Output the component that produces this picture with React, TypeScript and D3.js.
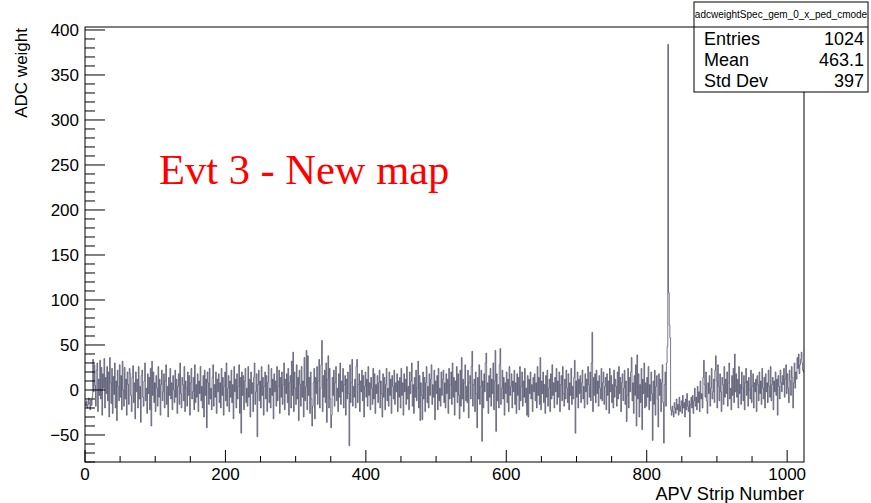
import React from "react";
import * as d3 from "d3";

// ---- Data ----
const histName = "adcweightSpec_gem_0_x_ped_cmode";
const statLabels = ["Entries", "Mean", "Std Dev"];
const statValues = ["1024", "463.1", "397"];
const xTickValues = [0, 200, 400, 600, 800, 1000];
const yTickValues = [-50, 0, 50, 100, 150, 200, 250, 300, 350, 400];
const xTitle = "APV Strip Number";
const yTitle = "ADC weight";
const note = "Evt 3 - New map";
const nBins = 1024;

// ADC weight per APV strip (bin 0 .. 1023)
const adcWeights = [
  -14,-18,-12,-20,-16,-9,-15,-22,-11,-17,-8,34,-2,28,5,-18,
  22,30,-24,12,-6,33,-10,25,-28,18,2,35,-20,14,-4,26,
  -12,20,-30,36,8,-15,24,-26,15,-5,30,-20,10,-34,22,4,
  -12,28,-8,16,-22,32,0,-18,25,-10,12,-28,20,6,-16,24,
  18,-6,-24,14,27,-14,8,-32,20,-2,12,-20,26,-10,4,-36,
  16,22,-8,-18,10,30,-12,2,-26,18,-4,14,-22,24,-40,32,
  -6,20,-14,8,-24,16,2,-18,26,-8,12,-28,6,22,-12,-2,
  18,-20,10,28,-16,4,-30,14,-6,24,-10,8,-22,16,0,-14,
  22,-8,12,-26,4,18,-16,30,-4,-20,14,6,-12,26,-24,10,
  2,-18,20,-6,16,-28,8,24,-10,-2,14,-22,28,-14,6,-8,
  18,-24,10,-4,26,-12,4,-20,16,-30,22,-6,12,-42,20,8,
  -16,24,-10,2,-22,14,28,-18,6,-8,20,-26,12,-2,18,-14,
  8,-20,24,-6,14,-28,4,20,-12,30,-18,2,16,-24,10,-8,
  22,-14,6,-32,26,-2,12,-20,18,-10,4,28,-26,14,-48,20,
  -6,16,-22,10,24,-14,2,-18,26,-8,12,-30,20,-4,8,-24,
  14,30,-16,-2,18,-52,6,22,-12,10,-20,26,-6,14,-28,4,
  20,-10,16,-24,8,28,-14,2,-20,24,-6,12,-32,18,-2,10,
  -18,26,-12,4,22,-26,14,-8,20,-16,6,30,-22,12,-4,18,
  -14,24,-28,8,16,-20,32,-6,42,-24,20,2,-16,28,-10,14,
  -34,22,6,-18,26,-8,10,-30,36,-12,4,44,-22,38,-6,14,
  -26,20,-10,-40,-18,8,24,-32,14,-4,26,-16,10,34,-20,2,
  28,55,-24,16,-8,22,-14,30,-36,12,38,-20,24,-10,-42,-28,
  14,-6,22,-18,8,26,-12,2,-24,18,-8,30,-16,10,-2,24,
  -20,6,16,-28,12,-10,20,-4,-62,28,-14,8,34,-18,4,-8,
  12,-20,26,34,-14,6,18,-24,10,-2,22,-12,16,-30,4,20,
  -8,12,-18,26,-6,8,-22,14,2,-16,24,-10,18,-26,6,-4,
  16,-14,8,22,-20,10,-4,-30,18,-8,14,-22,6,24,-12,2,
  -18,20,-6,12,-26,16,4,-10,22,-16,8,-2,18,-24,10,-8,
  14,-20,24,-6,8,-28,18,-2,12,-16,26,-10,4,-22,20,-4,
  10,30,-18,6,-26,14,-8,22,-12,2,32,-20,16,-34,8,-6,
  -33,20,-10,14,-24,8,26,-14,4,-20,18,-6,12,28,-16,6,
  -8,22,-33,10,-4,16,-22,24,-12,2,-18,20,-6,12,22,-14,
  8,-20,18,-4,12,-26,24,-10,6,20,-16,30,-8,14,-28,10,
  -2,26,-14,18,-6,-32,22,-18,36,-10,12,-24,8,28,-12,4,
  -14,22,-31,8,16,-10,26,43,-18,6,12,-24,20,-4,-42,14,
  -10,28,-16,4,22,-57,10,-20,18,-2,30,41,-12,8,-26,16,
  -8,24,-18,12,-4,30,-22,10,44,-46,18,-12,6,-20,28,46,
  -16,2,22,-10,14,-28,8,-4,20,-14,12,-24,26,-6,4,18,
  -20,10,-2,22,-16,8,-26,18,-6,14,-22,26,-12,4,20,-18,
  10,-8,24,-14,2,-28,16,-30,12,-4,20,-10,6,-24,14,-2,
  18,-12,8,-20,26,-6,14,-16,36,-22,10,-4,20,-14,6,-26,
  16,-8,22,-18,2,12,-24,18,-10,28,-6,8,-20,14,-2,24,
  -16,10,-8,20,-24,6,16,-12,26,-4,-18,12,-10,22,2,-14,
  18,-22,8,-6,24,-16,4,-10,14,33,-48,10,-8,20,-20,12,
  -4,16,-14,8,22,-10,4,-20,18,-2,12,-16,26,6,-8,20,
  -12,30,64,-24,14,-6,18,-14,22,-4,10,-18,16,2,-10,24,
  -12,8,20,-16,4,14,-22,18,-6,10,-26,24,-2,16,-14,6,
  -20,22,-8,12,4,-18,20,-10,26,-4,14,-24,8,18,-12,2,
  22,-16,10,-35,-6,24,-20,14,-2,20,36,-12,8,-26,16,-6,
  28,-40,39,-10,18,-30,6,-14,24,-44,12,-4,30,-20,8,-18,
  14,-8,26,-22,6,-12,20,-4,-56,10,-16,22,-28,4,16,-10,
  -41,18,-6,12,-24,8,28,-14,-59,6,20,-18,30,48,384,108,
  72,58,-22,-28,-18,-24,-30,-14,-20,-26,-10,-22,-16,-28,-8,-24,
  -18,-12,-26,-6,-20,-14,-30,-10,-22,-4,-18,-24,-12,-52,-16,-8,
  -20,-6,-26,-12,2,-18,-8,-22,4,-14,-2,-24,10,-10,-4,-20,
  14,33,6,-8,20,-12,-26,8,-4,16,-18,2,24,-10,-2,12,
  -14,22,38,10,-20,28,4,-12,18,-2,-24,14,6,-16,26,-8,
  12,-4,20,-18,8,30,-10,2,-22,16,-6,24,-14,40,-2,18,
  -8,12,-20,26,-4,6,-16,20,2,-12,16,-22,8,24,-6,10,
  -18,14,0,-10,22,-14,4,18,-20,8,-2,12,-24,16,6,-12,
  20,-4,10,-16,24,2,-10,14,-20,18,-2,8,-14,22,4,-8,
  26,-12,6,14,-22,10,-2,20,-6,12,-28,16,4,-10,22,8,
  -2,16,6,24,-8,12,28,-4,18,2,-14,22,10,-6,26,14,
  -20,8,30,2,20,12,36,24,40,18,28,34,42,30,22,20,
];

const W = 871;
const H = 503;
const frame = { left: 85, right: 804, top: 27, bottom: 462 };
const SANS = "'Liberation Sans', Arial, Helvetica, sans-serif";
const SERIF = "'Liberation Serif', 'Times New Roman', serif";

export default function App() {
  const x = d3.scaleLinear().domain([0, nBins]).range([frame.left, frame.right]);
  const y = d3.scaleLinear().domain([-80, 403.3]).range([frame.bottom, frame.top]);

  const pts: [number, number][] = adcWeights.map((v, i) => [i, v]);
  pts.push([adcWeights.length, adcWeights[adcWeights.length - 1]]);
  const line = d3
    .line<[number, number]>()
    .x((d) => x(d[0]))
    .y((d) => y(d[1]))
    .curve(d3.curveStepAfter);
  const path = line(pts) || "";

  const xMinor = d3.range(0, nBins + 1, 50).filter((v) => v % 200 !== 0);
  const [y0, y1] = y.domain();
  const yMinor = d3.range(-80, 401, 10).filter((v) => v % 50 !== 0 && v >= y0 && v <= y1);

  const fmt = (v: number) => (v < 0 ? "\u2212" + Math.abs(v) : String(v));

  const box = { x0: 694, x1: 868, y0: 2, ySep: 27, y1: 92 };

  return (
    <svg
      width={W}
      height={H}
      style={{ position: "absolute", left: 0, top: 0, background: "#fff" }}
      xmlns="http://www.w3.org/2000/svg"
    >
      <rect x={0} y={0} width={W} height={H} fill="#fff" />
      <defs>
        <clipPath id="frameClip">
          <rect
            x={frame.left}
            y={frame.top}
            width={frame.right - frame.left}
            height={frame.bottom - frame.top}
          />
        </clipPath>
      </defs>

      {/* histogram */}
      <path
        d={path}
        fill="none"
        stroke="#3e3e5a"
        strokeWidth={0.7}
        clipPath="url(#frameClip)"
      />

      {/* frame */}
      <rect
        x={frame.left}
        y={frame.top}
        width={frame.right - frame.left}
        height={frame.bottom - frame.top}
        fill="none"
        stroke="#000"
        strokeWidth={1}
      />

      {/* x axis ticks */}
      {xTickValues.map((v) => (
        <line key={"xM" + v} x1={x(v)} x2={x(v)} y1={frame.bottom} y2={frame.bottom - 12} stroke="#000" />
      ))}
      {xMinor.map((v) => (
        <line key={"xm" + v} x1={x(v)} x2={x(v)} y1={frame.bottom} y2={frame.bottom - 6} stroke="#000" />
      ))}
      {xTickValues.map((v) => (
        <text
          key={"xl" + v}
          x={x(v)}
          y={480}
          textAnchor="middle"
          fontFamily={SANS}
          fontSize={17}
          fill="#000"
        >
          {fmt(v)}
        </text>
      ))}
      <text x={frame.right} y={500} textAnchor="end" fontFamily={SANS} fontSize={18.2} fill="#000">
        {xTitle}
      </text>

      {/* y axis ticks */}
      {yTickValues.map((v) => (
        <line key={"yM" + v} x1={frame.left} x2={frame.left + 20} y1={y(v)} y2={y(v)} stroke="#000" />
      ))}
      {yMinor.map((v) => (
        <line key={"ym" + v} x1={frame.left} x2={frame.left + 10} y1={y(v)} y2={y(v)} stroke="#000" />
      ))}
      {yTickValues.map((v) => (
        <text
          key={"yl" + v}
          x={79}
          y={y(v)}
          dy="0.35em"
          textAnchor="end"
          fontFamily={SANS}
          fontSize={17}
          fill="#000"
        >
          {fmt(v)}
        </text>
      ))}
      <text
        transform={`translate(27, ${frame.top + 1}) rotate(-90)`}
        textAnchor="end"
        fontFamily={SANS}
        fontSize={17}
        fill="#000"
      >
        {yTitle}
      </text>

      {/* annotation */}
      <text x={159} y={184} fontFamily={SERIF} fontSize={42.5} fill="#ff0000">
        {note}
      </text>

      {/* stats box */}
      <rect
        x={box.x0}
        y={box.y0}
        width={box.x1 - box.x0}
        height={box.y1 - box.y0}
        fill="#fff"
        stroke="#000"
        strokeWidth={1}
      />
      <line x1={box.x0} x2={box.x1} y1={box.ySep} y2={box.ySep} stroke="#000" />
      <text
        x={(box.x0 + box.x1) / 2}
        y={18}
        textAnchor="middle"
        fontFamily={SANS}
        fontSize={10}
        fill="#000"
      >
        {histName}
      </text>
      {statLabels.map((lab, i) => (
        <g key={lab}>
          <text x={704} y={45 + i * 21} fontFamily={SANS} fontSize={18} fill="#000">
            {lab}
          </text>
          <text x={864} y={45 + i * 21} textAnchor="end" fontFamily={SANS} fontSize={18} fill="#000">
            {statValues[i]}
          </text>
        </g>
      ))}
    </svg>
  );
}
